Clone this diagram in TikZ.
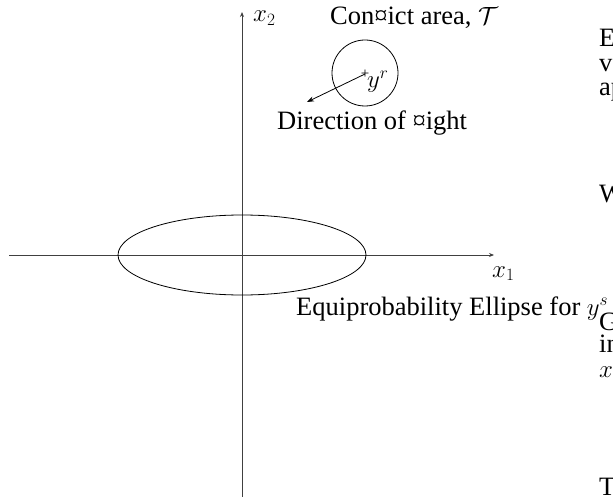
\documentclass[tikz,border=0pt]{standalone}
\usepackage{fontspec}
\setmainfont{Liberation Serif}
\usetikzlibrary{shapes.geometric,arrows.meta}
\tikzset{
  lbl/.style={inner sep=0pt, font=\fontsize{26.5}{30}\selectfont},
  axis/.style={line width=0.9pt, draw=black!75, -{Stealth[length=5pt,width=4pt]}},
  curve/.style={line width=0.8pt, draw=black},
}
\begin{document}
\begin{tikzpicture}[x=1pt,y=-1pt]
\useasboundingbox (0,0) rectangle (613,497);
% axes
\coordinate (x1s) at (9,255);
\coordinate (x1e) at (494,255);
\coordinate (x2s) at (242,497);
\coordinate (x2e) at (242,12);
\draw[axis] (x1s) -- (x1e);
\draw[axis] (x2s) -- (x2e);
\node[lbl, anchor=base west] (x2lab) at (253,22) {$x_2$};
\node[lbl, anchor=base west] (x1lab) at (492,277) {$x_1$};
% ellipse
\node[curve, ellipse, minimum width=248pt, minimum height=80pt, inner sep=0pt] (ell) at (242,255) {};
% conflict circle
\node[curve, circle, minimum size=66pt, inner sep=0pt] (ct) at (365,73) {};
\node[lbl, anchor=base west] (ctlab) at (330,25) {Con¤ict area, $\mathcal{T}$};
\node[inner sep=0pt, font=\fontsize{15}{15}\selectfont] (yr) at (365,74) {+};
\node[lbl, anchor=base west] (yrlab) at (367,88) {$y^r$};
\coordinate (dirend) at (307,102);
\draw[curve, -{Stealth[length=7pt,width=5pt]}] (yr.center) -- (dirend);
\node[lbl, anchor=base west] (dirlab) at (277,130) {Direction of ¤ight};
\node[lbl, anchor=base west] (eqlab) at (296,315) {Equiprobability Ellipse for $y^s$};
% cut-off text of the page at the right
\node[lbl, anchor=base west] (r1) at (599,47) {E};
\node[lbl, anchor=base west] (r2) at (599,72) {va};
\node[lbl, anchor=base west] (r3) at (599,96) {ap};
\node[lbl, anchor=base west] (r4) at (599,203) {W};
\node[lbl, anchor=base west] (r5) at (599,330) {G};
\node[lbl, anchor=base west] (r6) at (599,352) {in};
\node[lbl, anchor=base west] (r7) at (599,377) {$x$};
\node[lbl, anchor=base west] (r8) at (599,495) {T};
\end{tikzpicture}
\end{document}
